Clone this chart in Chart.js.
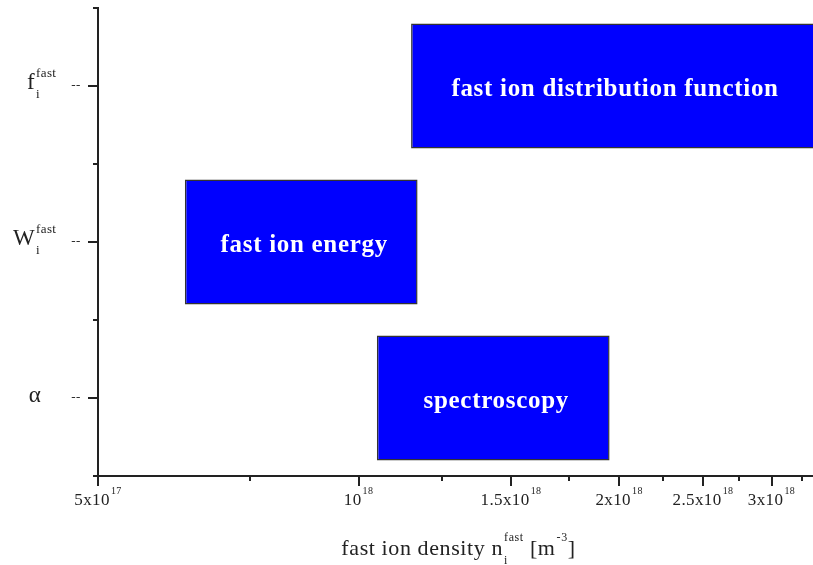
<!DOCTYPE html>
<html>
<head>
<meta charset="utf-8">
<script src="https://cdn.jsdelivr.net/npm/chart.js@4.4.0/dist/chart.umd.min.js"></script>
<style>
  html, body { margin: 0; padding: 0; background: #fff; }
  #wrap { width: 813px; height: 565px; }
</style>
</head>
<body>
<div id="wrap"><canvas id="chart"></canvas></div>
<script>
// diagnostics, top to bottom
const categories = ['f', 'W', 'alpha'];
const barStart = [1.15e18, 6.3e17, 1.05e18];
const barEnd = [4.0e18, 1.17e18, 1.95e18];
const barText = ['fast ion distribution function', 'fast ion energy', 'spectroscopy'];

// y labels: base symbol, subscript, superscript
const yBase = ['f', 'W', 'α'];
const ySub = ['i', 'i', ''];
const ySup = ['fast', 'fast', ''];

// x axis (log) ticks
const xMin = 5e17;
const xMax = 3.35e18;
const majorTicks = [5e17, 1e18, 1.5e18, 2e18, 2.5e18, 3e18];
const majorMantissa = ['5x10', '10', '1.5x10', '2x10', '2.5x10', '3x10'];
const majorExp = ['17', '18', '18', '18', '18', '18'];
const minorTicks = [7.5e17, 1.25e18, 1.75e18, 2.25e18, 2.75e18, 3.25e18];

const SERIF = '"Liberation Serif", "DejaVu Serif", serif';
const INK = '#222';

// writes base text followed by a stacked sub/superscript, returns end x
function drawScripted(ctx, x, y, base, sub, sup, baseSize, smallSize, subDy, supDy) {
    ctx.font = baseSize + 'px ' + SERIF;
    ctx.fillText(base, x, y);
    let end = x + ctx.measureText(base).width;
    ctx.font = smallSize + 'px ' + SERIF;
    let w = 0;
    if (sub) { ctx.fillText(sub, end + 1, y + subDy); w = Math.max(w, ctx.measureText(sub).width); }
    if (sup) { ctx.fillText(sup, end + 1, y + supDy); w = Math.max(w, ctx.measureText(sup).width); }
    return end + (w ? w + 1 : 0);
}

function scriptedWidth(ctx, base, sub, sup, baseSize, smallSize) {
    ctx.font = baseSize + 'px ' + SERIF;
    const bw = ctx.measureText(base).width;
    ctx.font = smallSize + 'px ' + SERIF;
    const sw = Math.max(sub ? ctx.measureText(sub).width : 0, sup ? ctx.measureText(sup).width : 0);
    return bw + (sw ? sw + 1 : 0);
}

const axesPlugin = {
    id: 'axesPlugin',
    afterDatasetsDraw(chart) {
        const ctx = chart.ctx;
        const area = chart.chartArea;
        const xs = chart.scales.x;
        const ys = chart.scales.y;
        ctx.save();

        // labels inside the bars
        const meta = chart.getDatasetMeta(0);
        ctx.fillStyle = '#fff';
        ctx.font = 'bold 25px ' + SERIF;
        ctx.letterSpacing = '0.7px';
        ctx.textAlign = 'center';
        ctx.textBaseline = 'middle';
        meta.data.forEach((bar, i) => {
            const left = Math.max(Math.min(bar.x, bar.base), area.left);
            const right = Math.min(Math.max(bar.x, bar.base), area.right);
            ctx.fillText(barText[i], (left + right) / 2 + 3, bar.y + 4);
        });
        ctx.letterSpacing = '0px';

        // axis lines
        ctx.strokeStyle = INK;
        ctx.lineWidth = 2;
        ctx.beginPath();
        ctx.moveTo(area.left, area.top - 1);
        ctx.lineTo(area.left, area.bottom);
        ctx.moveTo(area.left - 5, area.bottom);
        ctx.lineTo(area.right, area.bottom);
        ctx.stroke();

        // x ticks
        ctx.beginPath();
        majorTicks.forEach(v => {
            const px = Math.round(xs.getPixelForValue(v));
            ctx.moveTo(px, area.bottom);
            ctx.lineTo(px, area.bottom + 10);
        });
        minorTicks.forEach(v => {
            const px = Math.round(xs.getPixelForValue(v));
            ctx.moveTo(px, area.bottom);
            ctx.lineTo(px, area.bottom + 5);
        });

        // y ticks: major at categories, minor between them
        categories.forEach((c, i) => {
            const py = Math.round(ys.getPixelForValue(i));
            ctx.moveTo(area.left, py);
            ctx.lineTo(area.left - 10, py);
        });
        for (let i = -0.5; i < categories.length; i += 1) {
            const py = Math.round(ys.getPixelForValue(i));
            ctx.moveTo(area.left, py);
            ctx.lineTo(area.left - 5, py);
        }
        ctx.stroke();

        // x tick labels with exponents
        ctx.fillStyle = INK;
        ctx.textAlign = 'left';
        ctx.textBaseline = 'alphabetic';
        ctx.letterSpacing = '0.4px';
        majorTicks.forEach((v, i) => {
            const px = xs.getPixelForValue(v);
            const w = scriptedWidth(ctx, majorMantissa[i], '', majorExp[i], 17, 10);
            drawScripted(ctx, px - w / 2, 505, majorMantissa[i], '', majorExp[i], 17, 10, 0, -11);
        });

        // y tick labels
        categories.forEach((c, i) => {
            const py = ys.getPixelForValue(i);
            ctx.font = '23px ' + SERIF;
            if (ySub[i] || ySup[i]) {
                const bw = ctx.measureText(yBase[i]).width;
                drawScripted(ctx, 35 - bw, py + 3, yBase[i], ySub[i], ySup[i], 23, 13, 9, -12);
            } else {
                ctx.textAlign = 'center';
                ctx.fillText(yBase[i], 35, py + 4);
                ctx.textAlign = 'left';
            }
            ctx.font = '13px ' + SERIF;
            ctx.textAlign = 'center';
            ctx.fillText('--', 76, py + 3);
            ctx.textAlign = 'left';
        });

        // x axis title
        ctx.letterSpacing = '0.6px';
        const parts = [
            ['fast ion density n', 'i', 'fast'],
            [' [m', '', '-3'],
            [']', '', '']
        ];
        let total = 0;
        parts.forEach(p => { total += scriptedWidth(ctx, p[0], p[1], p[2], 22, 12); });
        let x = (area.left + area.right) / 2 + 3 - total / 2;
        parts.forEach(p => {
            x = drawScripted(ctx, x, 555, p[0], p[1], p[2], 22, 12, 9, -14);
        });

        ctx.restore();
    }
};

new Chart(document.getElementById('chart'), {
    type: 'bar',
    data: {
        labels: categories,
        datasets: [{
            data: categories.map((c, i) => [barStart[i], barEnd[i]]),
            backgroundColor: '#0000ff',
            borderColor: '#333',
            borderWidth: 1.5,
            borderSkipped: false,
            barPercentage: 0.8,
            categoryPercentage: 1.0
        }]
    },
    options: {
        indexAxis: 'y',
        responsive: true,
        maintainAspectRatio: false,
        animation: false,
        layout: { padding: { top: 8, right: 0, left: 0, bottom: 0 } },
        plugins: {
            legend: { display: false },
            tooltip: { enabled: false }
        },
        scales: {
            x: {
                type: 'logarithmic',
                min: xMin,
                max: xMax,
                grid: { display: false },
                border: { display: false },
                ticks: { display: false },
                afterFit: s => { s.height = 89; }
            },
            y: {
                type: 'category',
                offset: true,
                grid: { display: false },
                border: { display: false },
                ticks: { display: false },
                afterFit: s => { s.width = 98; }
            }
        }
    },
    plugins: [axesPlugin]
});
</script>
</body>
</html>
